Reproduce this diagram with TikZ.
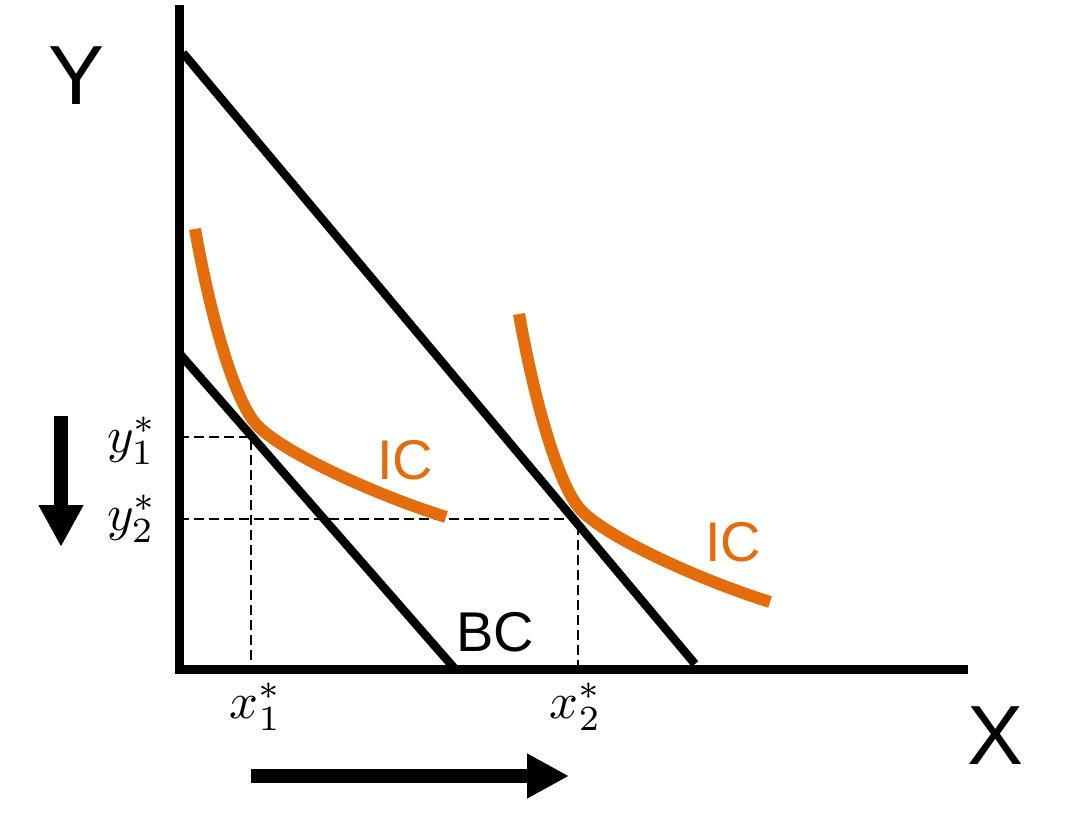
\documentclass[tikz,border=0pt]{standalone}
\usepackage{fontspec}
\setmainfont{Liberation Sans}
\usetikzlibrary{arrows.meta}
\definecolor{icorange}{RGB}{228,108,10}
\tikzset{
  axis/.style={line width=6.75pt, line cap=rect},
  bcline/.style={line width=6.4pt},
  icline/.style={line width=9pt, icorange},
  guide/.style={line width=1.8pt, dash pattern=on 7.5pt off 3.75pt},
  bigarrow/.style={line width=10.5pt, -{Triangle[length=31.5pt,width=31.5pt]}},
  biglabel/.style={font=\fontsize{63}{70}\selectfont, inner sep=0pt},
  midlabel/.style={font=\fontsize{42}{48}\selectfont, inner sep=0pt},
  mathlabel/.style={font=\fontsize{10}{12}\selectfont, inner sep=0pt, scale=3.8},
}
\begin{document}
\begin{tikzpicture}[x=0.75pt, y=-0.75pt]
\useasboundingbox (0,0) rectangle (1075,834);
% axes
\coordinate (ytop) at (179,10);
\coordinate (orig) at (179,669);
\coordinate (xend) at (963,669);
\draw[axis] (ytop) -- (orig) -- (xend);
% budget lines
\coordinate (b1a) at (179,353);
\coordinate (b1b) at (455,669);
\coordinate (b2a) at (183,53);
\coordinate (b2b) at (695,664);
\draw[bcline] (b1a) -- (b1b);
\draw[bcline] (b2a) -- (b2b);
% tangency points
\coordinate (e1) at (251,437);
\coordinate (e2) at (578,519);
\coordinate (e1y) at (179,437);
\coordinate (e1x) at (251,669);
\coordinate (e2y) at (179,519);
\coordinate (e2x) at (578,669);
\draw[guide] (e1y) -- (e1) -- (e1x);
\draw[guide] (e2y) -- (e2) -- (e2x);
% indifference curves
\draw[icline] (195,229) .. controls (211,319) and (234.4,399.4) .. (256,424)
              .. controls (279,450.2) and (370,493) .. (446,517);
\begin{scope}[shift={(324,85)}]
\draw[icline] (195,229) .. controls (211,319) and (234.4,399.4) .. (256,424)
              .. controls (279,450.2) and (370,493) .. (446,517);
\end{scope}
% labels
\node[biglabel] (ylab) at (77,76) {Y};
\node[biglabel] (xlab) at (996,736) {X};
\node[midlabel, text=icorange] (ic1) at (405,460) {IC};
\node[midlabel, text=icorange] (ic2) at (733,542) {IC};
\node[midlabel] (bc) at (495,632) {BC};
\node[mathlabel] (y1) at (132,441) {$y_1^*$};
\node[mathlabel] (y2) at (132,519) {$y_2^*$};
\node[mathlabel] (x1) at (256,707) {$x_1^*$};
\node[mathlabel] (x2) at (576,707) {$x_2^*$};
% arrows
\coordinate (da) at (61,416);
\coordinate (db) at (61,547);
\coordinate (ra) at (251,776);
\coordinate (rb) at (569,776);
\draw[bigarrow] (da) -- (db);
\draw[bigarrow] (ra) -- (rb);
\end{tikzpicture}
\end{document}
